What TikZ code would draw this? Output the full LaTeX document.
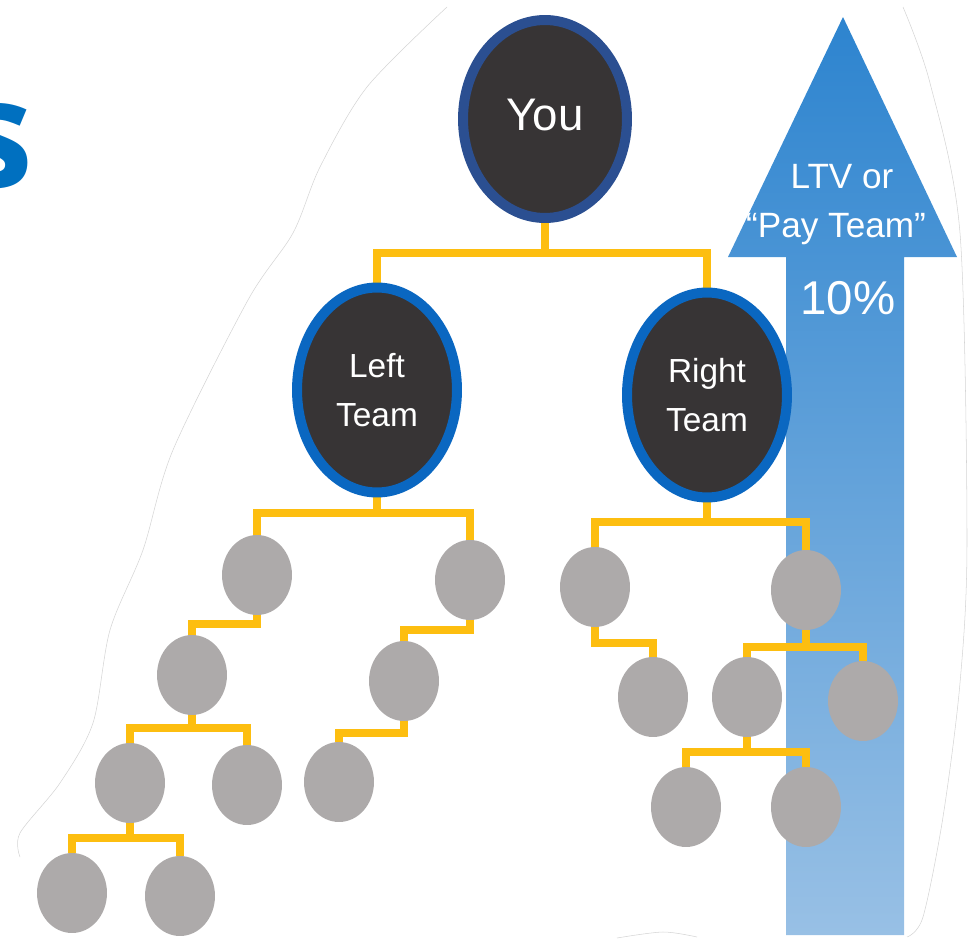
\documentclass[tikz,border=0pt]{standalone}
\usepackage{fontspec}
\setmainfont{Liberation Sans}
\newfontfamily\headfont{Open Sans}
\usepackage{tikz}
\usetikzlibrary{shapes.geometric}
\pgfdeclarelayer{background}
\pgfsetlayers{background,main}

\definecolor{titleblue}{HTML}{0070C0}
\definecolor{boxfill}{HTML}{373435}
\definecolor{youblue}{HTML}{2B4F91}
\definecolor{teamblue}{HTML}{0A67C1}
\definecolor{membergray}{HTML}{ADAAAA}
\definecolor{linkgold}{HTML}{FDBE10}
\definecolor{arrowtop}{HTML}{2D84CF}
\definecolor{arrowbottom}{HTML}{98C0E5}
\definecolor{edgegray}{HTML}{D4D4D4}

\begin{document}
\begin{tikzpicture}[x=0.02cm, y=-0.02cm,
    team/.style={ellipse, draw=teamblue, line width=0.2cm, fill=boxfill, text=white,
        align=center, inner sep=0pt, minimum width=3.2cm, minimum height=4.1cm,
        font=\fontsize{19}{28}\selectfont},
    member/.style={ellipse, fill=membergray, inner sep=0pt, minimum width=1.4cm, minimum height=1.6cm},
    link/.style={draw=linkgold, line width=0.16cm},
    arrowtext/.style={text=white, inner sep=0pt}]
    \useasboundingbox (0, 0) rectangle (975, 940);
    \clip (0, 0) rectangle (975, 940);

    % cut-out edge
    \draw[edgegray, line width=0.3pt] plot[smooth] coordinates {(447,7) (367,87) (320,167) (293,233) (248,300)
        (173,450) (143,550) (110,630) (93,723) (60,783) (20,833) (20,857)};
    \draw[edgegray, line width=0.3pt] plot[smooth] coordinates {(903,7) (930,83) (960,233) (967,540)
        (960,683) (943,817) (923,917) (907,937)};
    \draw[edgegray, line width=0.3pt] plot[smooth] coordinates {(617,938) (663,932) (697,937)};

    \node[anchor=base east, inner sep=0pt, text=titleblue,
        font=\headfont\bfseries\fontsize{86}{86}\selectfont] (title) at (34, 187) {s};

    % pay team arrow
    \begin{pgfonlayer}{background}
        \shade[top color=arrowtop, bottom color=arrowbottom]
            (786, 935) -- (786, 257) -- (728, 257) -- (843, 17) -- (957, 257)
            -- (904, 257) -- (904, 935) -- cycle;
    \end{pgfonlayer}
    \node[arrowtext, font=\fontsize{20}{24}\selectfont] (ltv) at (842, 177) {LTV or};
    \node[arrowtext, font=\fontsize{20}{24}\selectfont] (payteam) at (836, 229) {“Pay Team”};
    \node[arrowtext, font=\fontsize{27}{30}\selectfont] (share) at (848, 298) {10\%};

    % tree
    \node[team, draw=youblue, minimum width=3.28cm, minimum height=3.96cm,
        font=\fontsize{26}{30}\selectfont] (you) at (545, 119) {\raisebox{5pt}{You}};
    \node[team] (left) at (377, 390) {Left\\Team};
    \node[team] (right) at (707, 395) {Right\\Team};

    \node[member] (l1) at (257, 575) {};
    \node[member] (l2) at (470, 580) {};
    \node[member] (l1a) at (192, 675) {};
    \node[member] (l1a1) at (130, 783) {};
    \node[member] (l1a2) at (247, 785) {};
    \node[member] (l1a1a) at (72, 893) {};
    \node[member] (l1a1b) at (180, 896) {};
    \node[member] (l2a) at (404, 681) {};
    \node[member] (l2a1) at (339, 782) {};

    \node[member] (r1) at (595, 587) {};
    \node[member] (r2) at (806, 590) {};
    \node[member] (r1a) at (653, 697) {};
    \node[member] (r2a) at (747, 697) {};
    \node[member] (r2b) at (863, 701) {};
    \node[member] (r2a1) at (686, 807) {};
    \node[member] (r2a2) at (806, 807) {};

    \begin{pgfonlayer}{background}
        \foreach \p/\d/\c in {you/30/left, you/30/right, left/16/l1, left/16/l2,
                right/20/r1, right/20/r2, l1/9/l1a, l1a/13/l1a1, l1a/13/l1a2,
                l1a1/15/l1a1a, l1a1/15/l1a1b, l2/10/l2a, l2a/12/l2a1,
                r1/16/r1a, r2/17/r2a, r2/17/r2b, r2a/15/r2a1, r2a/15/r2a2}
            \draw[link] (\p.south) -- ++(0, \d) -| (\c.north);
    \end{pgfonlayer}
\end{tikzpicture}
\end{document}
